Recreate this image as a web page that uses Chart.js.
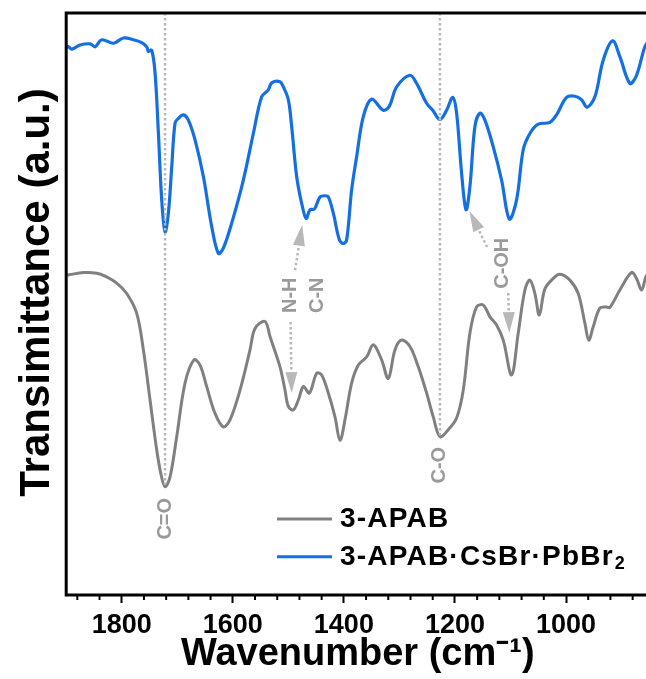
<!DOCTYPE html>
<html><head><meta charset="utf-8">
<script src="https://cdn.jsdelivr.net/npm/chart.js@4/dist/chart.umd.min.js"></script>
<style>
html,body{margin:0;padding:0;background:#fff;overflow:hidden;}
#wrap{width:646px;height:679px;overflow:hidden;position:relative;background:#fff;}
canvas{display:block;}
</style></head><body>
<div id="wrap"><canvas id="c" width="660" height="679" style="width:660px;height:679px"></canvas></div>
<script>
// ---- data (x: wavenumber, cm-1; y: transmittance, a.u.) ----
const seriesNames = ['3-APAB', '3-APAB·CsBr·PbBr₂'];
const yTitle = 'Transimittance (a.u.)';
const xTitle = 'Wavenumber (cm⁻¹)';
const wnGray = [1899,1896,1869,1845,1830,1809,1791,1773,1761,1749,1737,1729,1722,1713,1701,1686,1670,1659,1647,1632,1617,1605,1587,1569,1560,1542,1533,1515,1506,1500,1491,1482,1473,1462,1449,1440,1428,1416,1407,1398,1386,1374,1359,1347,1332,1320,1308,1296,1281,1266,1251,1239,1227,1212,1197,1185,1173,1161,1149,1137,1125,1113,1098,1086,1074,1065,1056,1048,1038,1023,1011,993,978,966,959,951,939,927,921,903,882,873,864,856,850];
const valGray = [55.0,55.0,55.4,55.3,54.8,53.6,51.8,48.4,42.1,33.5,24.9,20.6,18.6,20.3,27.2,36.4,40.4,39.5,35.8,31.2,28.9,30.1,35.2,42.1,45.8,47.0,44.4,39.2,35.2,32.4,31.8,33.5,35.8,34.7,38.1,37.8,34.7,30.6,26.6,30.1,36.4,39.5,40.9,43.0,40.4,37.2,42.1,43.8,42.7,39.2,34.7,30.6,27.2,28.4,30.4,35.2,45.0,49.5,49.8,47.8,46.4,43.8,37.8,45.0,52.4,54.1,51.8,48.1,52.6,54.4,55.1,54.1,51.8,46.7,43.8,46.1,49.3,49.5,49.4,52.4,55.4,54.4,52.4,54.7,55.5];
const wnBlue = [1899,1896,1890,1875,1857,1848,1836,1815,1797,1779,1764,1755,1752,1746,1740,1734,1728,1722,1716,1710,1704,1698,1689,1680,1668,1653,1638,1626,1617,1602,1581,1563,1548,1536,1530,1515,1509,1500,1494,1485,1476,1468,1461,1453,1443,1434,1428,1419,1408,1401,1395,1386,1377,1365,1350,1329,1318,1305,1281,1269,1251,1240,1227,1215,1204,1197,1188,1180,1173,1164,1155,1146,1131,1116,1102,1089,1077,1065,1050,1029,1017,999,984,972,962,948,933,916,903,885,873,858,850];
const valBlue = [94.2,94.2,93.8,94.5,94.7,94.2,95.4,94.8,95.7,95.4,94.9,94.2,93.4,93.6,89.7,79.4,67.9,62.4,65.6,73.5,81.1,81.9,82.5,81.6,78.2,71.9,63.3,58.7,59.6,63.9,71.3,79.3,85.6,86.8,88.0,88.2,87.3,85.1,80.5,71.9,67.3,64.7,66.2,66.3,68.4,68.6,68.4,65.6,61.0,60.4,61.0,69.6,75.3,82.2,85.2,83.3,84.0,87.3,89.3,87.9,84.5,83.3,81.7,83.3,85.5,82.8,72.5,66.2,70.2,80.5,82.8,81.6,77.0,71.3,64.6,67.9,76.5,79.3,80.9,81.2,82.5,85.5,85.7,85.1,83.8,85.6,91.9,95.2,92.5,87.9,89.3,94.2,95.4];
const majorTicks = [1800, 1600, 1400, 1200, 1000];
const minorStep = 40;

// annotations (data coordinates)
const markerLines = [{wn:1722, to:18.9}, {wn:1227, to:27.1}];
const bandLabels = [
  {text:'C=O', wn:1722, y:13.1},
  {text:'C-O', wn:1227, y:22.3},
  {text:'N-H', wn:1496, y:51.5},
  {text:'C-N', wn:1448, y:51.5},
  {text:'C-OH', wn:1114, y:57.0}
];
const arrows = [
  {from:[1488,55.8], to:[1475,63.6]},
  {from:[1496,46.9], to:[1494,34.7]},
  {from:[1142,59.8], to:[1174,66.0]},
  {from:[1104,51.9], to:[1102,45.0]}
];

const FONT = '"Liberation Sans", Arial, Helvetica, sans-serif';
Chart.defaults.font.family = FONT;
const ANN = '#b8b8b8';

const annotPlugin = {
  id: 'annot',
  afterDatasetsDraw(chart) {
    const {ctx, scales: {x, y}, chartArea: a} = chart;
    ctx.save();
    ctx.strokeStyle = ANN; ctx.lineWidth = 2.5; ctx.setLineDash([2.5, 2.5]);
    markerLines.forEach(m => {
      const px = x.getPixelForValue(m.wn);
      ctx.beginPath(); ctx.moveTo(px, a.top); ctx.lineTo(px, y.getPixelForValue(m.to)); ctx.stroke();
    });
    arrows.forEach(ar => {
      const x0 = x.getPixelForValue(ar.from[0]), y0 = y.getPixelForValue(ar.from[1]);
      const x1 = x.getPixelForValue(ar.to[0]), y1 = y.getPixelForValue(ar.to[1]);
      const dx = x1 - x0, dy = y1 - y0, L = Math.hypot(dx, dy), ux = dx / L, uy = dy / L;
      const hl = 21, hw = 6;
      const bx = x1 - ux * hl, by = y1 - uy * hl;
      ctx.setLineDash([2.5, 2.5]); ctx.strokeStyle = ANN;
      ctx.beginPath(); ctx.moveTo(x0, y0); ctx.lineTo(bx, by); ctx.stroke();
      ctx.setLineDash([]); ctx.fillStyle = ANN;
      ctx.beginPath(); ctx.moveTo(x1, y1);
      ctx.lineTo(bx - uy * hw, by + ux * hw); ctx.lineTo(bx + uy * hw, by - ux * hw);
      ctx.closePath(); ctx.fill();
    });
    ctx.fillStyle = '#9a9a9a';
    ctx.font = 'bold 20px ' + FONT;
    ctx.textAlign = 'center'; ctx.textBaseline = 'middle';
    bandLabels.forEach(l => {
      ctx.save();
      ctx.translate(x.getPixelForValue(l.wn), y.getPixelForValue(l.y));
      ctx.rotate(-Math.PI / 2);
      ctx.fillText(l.text, 0, 0);
      ctx.restore();
    });
    ctx.restore();
  }
};

const framePlugin = {
  id: 'frame',
  afterDraw(chart) {
    const {ctx, chartArea: a, scales: {x}} = chart;
    ctx.save();
    ctx.strokeStyle = '#000'; ctx.lineWidth = 2;
    for (let v = Math.ceil(x.min / minorStep) * minorStep; v <= x.max; v += minorStep) {
      if (v % 200 === 0) continue;
      const px = x.getPixelForValue(v);
      ctx.beginPath(); ctx.moveTo(px, a.bottom); ctx.lineTo(px, a.bottom + 5); ctx.stroke();
    }
    ctx.lineWidth = 3;
    ctx.strokeRect(a.left, a.top, a.right - a.left, a.bottom - a.top);
    // y-axis title
    ctx.fillStyle = '#000';
    ctx.font = 'bold 42px ' + FONT;
    ctx.textAlign = 'center'; ctx.textBaseline = 'alphabetic';
    ctx.translate(49, 292.5);
    ctx.rotate(-Math.PI / 2);
    ctx.fillText(yTitle, 0, 0);
    ctx.restore();
  }
};

const legendPlugin = {
  id: 'customLegend',
  afterDraw(chart) {
    const ctx = chart.ctx;
    const rows = [519, 556.7];
    ctx.save();
    chart.data.datasets.forEach((ds, i) => {
      const yy = rows[i];
      ctx.strokeStyle = ds.borderColor; ctx.lineWidth = 3;
      ctx.beginPath(); ctx.moveTo(277, yy); ctx.lineTo(332, yy); ctx.stroke();
      let label = ds.label, sub = '';
      const m = label.match(/[\u2080-\u2089]+$/);
      if (m) {
        sub = m[0].replace(/[\u2080-\u2089]/g, c => String.fromCharCode(c.charCodeAt(0) - 0x2080 + 48));
        label = label.slice(0, -m[0].length);
      }
      ctx.fillStyle = '#000'; ctx.textAlign = 'left'; ctx.textBaseline = 'alphabetic';
      ctx.font = 'bold 28px ' + FONT;
      if ('letterSpacing' in ctx) ctx.letterSpacing = '1.2px';
      const base = yy + 8.3;
      ctx.fillText(label, 340, base);
      if (sub) {
        const w = ctx.measureText(label).width;
        ctx.font = 'bold 18px ' + FONT;
        ctx.fillText(sub, 340 + w + 1, base + 4);
      }
      if ('letterSpacing' in ctx) ctx.letterSpacing = '0px';
    });
    ctx.restore();
  }
};

new Chart(document.getElementById('c'), {
  type: 'line',
  data: {
    datasets: [
      {label: seriesNames[0], data: wnGray.map((v, i) => ({x: v, y: valGray[i]})),
       borderColor: '#808080', borderWidth: 3, pointRadius: 0, fill: false, tension: 0.35},
      {label: seriesNames[1], data: wnBlue.map((v, i) => ({x: v, y: valBlue[i]})),
       borderColor: '#146fe3', borderWidth: 3.2, pointRadius: 0, fill: false, tension: 0.35}
    ]
  },
  options: {
    responsive: false, animation: false,
    layout: {padding: {top: 13, right: 10.7, left: 0, bottom: 0}},
    plugins: {legend: {display: false}, tooltip: {enabled: false}},
    scales: {
      x: {
        type: 'linear', reverse: true, min: 850, max: 1900,
        afterBuildTicks: s => { s.ticks = majorTicks.map(v => ({value: v})); },
        ticks: {callback: v => String(v), font: {size: 27, weight: 'bold'}, color: '#000', padding: 6, maxRotation: 0, autoSkip: false},
        grid: {drawOnChartArea: false, drawTicks: true, tickLength: 8, tickWidth: 2, tickColor: '#000'},
        border: {display: false},
        title: {display: true, text: xTitle, color: '#000', font: {size: 38, weight: 'bold', lineHeight: 1}, padding: {top: 0, bottom: 5}},
        afterFit: s => { s.height = 84; }
      },
      y: {
        min: 0, max: 100,
        ticks: {display: false}, grid: {display: false}, border: {display: false},
        title: {display: false, text: yTitle},
        afterFit: s => { s.width = 66.2; }
      }
    }
  },
  plugins: [annotPlugin, framePlugin, legendPlugin]
});
</script>
</body></html>
